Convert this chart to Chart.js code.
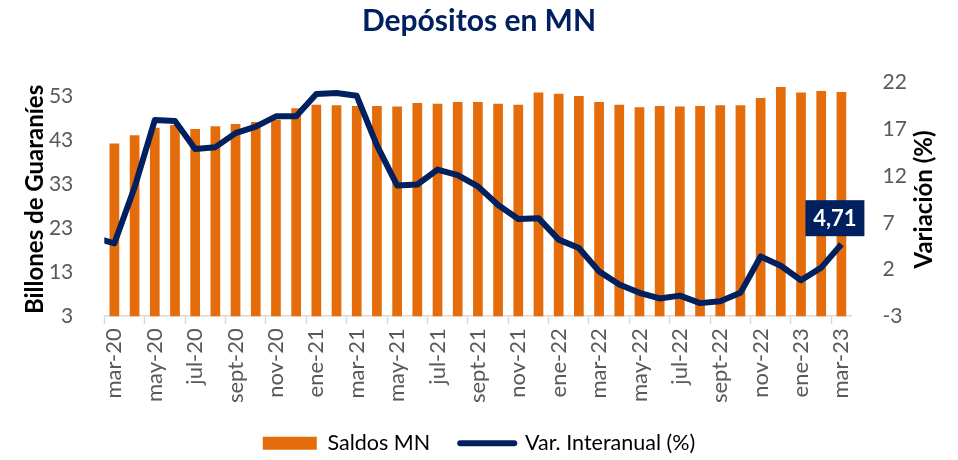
<!DOCTYPE html>
<html lang="es">
<head>
<meta charset="utf-8">
<title>Depósitos en MN</title>
<script src="https://cdn.jsdelivr.net/npm/chart.js@4.4.1/dist/chart.umd.min.js"></script>
<style>
  html, body { margin: 0; padding: 0; background: #fff; }
  #wrap { width: 958px; height: 460px; }
</style>
</head>
<body>
<div id="wrap"><canvas id="chart"></canvas></div>
<script>
// feb-20 only carries the line segment that enters from the left edge
const meses = [
  'feb-20', 'mar-20', 'abr-20', 'may-20', 'jun-20', 'jul-20', 'ago-20', 'sept-20', 'oct-20', 'nov-20', 'dic-20',
  'ene-21', 'feb-21', 'mar-21', 'abr-21', 'may-21', 'jun-21', 'jul-21', 'ago-21', 'sept-21', 'oct-21', 'nov-21', 'dic-21',
  'ene-22', 'feb-22', 'mar-22', 'abr-22', 'may-22', 'jun-22', 'jul-22', 'ago-22', 'sept-22', 'oct-22', 'nov-22', 'dic-22',
  'ene-23', 'feb-23', 'mar-23'
]

// Saldos MN (billones de guaraníes)
const saldosMN = [
  null,
  42.2, 44.1, 45.8, 46.4, 45.5, 46.1, 46.6, 47.1, 47.6, 50.2,
  51.0, 50.9, 50.7, 50.7, 50.6, 51.4, 51.2, 51.6, 51.6, 51.2, 51.0, 53.8,
  53.5, 53.0, 51.6, 51.0, 50.4, 50.7, 50.6, 50.7, 50.9, 50.9, 52.5, 55.0,
  53.8, 54.1, 53.9
]

// Var. interanual (%)
const varInteranual = [
  5.4,
  4.8, 10.8, 18.0, 17.9, 14.9, 15.1, 16.6, 17.3, 18.4, 18.4,
  20.8, 20.9, 20.6, 15.3, 11.0, 11.1, 12.7, 12.1, 10.9, 8.9, 7.4, 7.5,
  5.2, 4.3, 1.8, 0.4, -0.5, -1.1, -0.8, -1.6, -1.4, -0.5, 3.4, 2.4,
  0.85, 2.2, 4.71
]

const ticksIzq = [3, 13, 23, 33, 43, 53]
const ticksDer = [-3, 2, 7, 12, 17, 22]

const NARANJA = '#E46C0A'
const AZUL = '#002060'
const GRIS = '#595959'
const FONT = 'Lato, "Open Sans", sans-serif'

// box with the last value of the line + right axis title (reads bottom to top like the left one)
const extras = {
  id: 'extras',
  afterDatasetsDraw(chart) {
    const meta = chart.getDatasetMeta(1)
    const pt = meta.data[meta.data.length - 1]
    const valor = varInteranual[varInteranual.length - 1]
    const ctx = chart.ctx
    ctx.save()
    ctx.fillStyle = AZUL
    ctx.fillRect(pt.x - 36, pt.y - 44, 59, 36)
    ctx.fillStyle = '#fff'
    ctx.font = 'bold 22px ' + FONT
    ctx.textAlign = 'center'
    ctx.textBaseline = 'middle'
    ctx.fillText(valor.toFixed(2).replace('.', ','), pt.x - 6.5, pt.y - 25)
    ctx.restore()
  },
  afterDraw(chart) {
    const area = chart.chartArea
    const ctx = chart.ctx
    ctx.save()
    ctx.translate(924, (area.top + area.bottom) / 2)
    ctx.rotate(-Math.PI / 2)
    ctx.fillStyle = '#000'
    ctx.font = 'bold 24px ' + FONT
    ctx.textAlign = 'center'
    ctx.textBaseline = 'middle'
    ctx.fillText('Variación (%)', 0, 0)
    ctx.restore()
  }
}

new Chart(document.getElementById('chart'), {
  type: 'bar',
  data: {
    labels: meses,
    datasets: [
      {
        type: 'bar',
        label: 'Saldos MN',
        data: saldosMN,
        backgroundColor: NARANJA,
        borderWidth: 0,
        barPercentage: 0.48,
        categoryPercentage: 1,
        yAxisID: 'y',
        order: 1
      },
      {
        type: 'line',
        label: 'Var. Interanual (%)',
        data: varInteranual,
        borderColor: AZUL,
        backgroundColor: AZUL,
        borderWidth: 6,
        borderJoinStyle: 'round',
        tension: 0,
        pointRadius: 0,
        clip: 0,
        yAxisID: 'y1',
        order: 0
      }
    ]
  },
  options: {
    responsive: true,
    maintainAspectRatio: false,
    animation: false,
    layout: {
      padding: { left: 14, right: 14, top: 0, bottom: -4 }
    },
    plugins: {
      tooltip: { enabled: false },
      title: {
        display: true,
        text: 'Depósitos en MN',
        color: AZUL,
        font: { family: FONT, size: 30, weight: 'bold' },
        padding: { top: 3, bottom: 43.7 }
      },
      legend: {
        position: 'bottom',
        labels: {
          usePointStyle: true,
          pointStyleWidth: 54,
          boxHeight: 13,
          padding: 30,
          color: GRIS,
          font: { family: FONT, size: 21.5 },
          generateLabels: () => [
            { text: 'Saldos MN', fillStyle: NARANJA, strokeStyle: NARANJA, lineWidth: 0, pointStyle: 'rect', hidden: false, datasetIndex: 0 },
            { text: 'Var. Interanual (%)', fillStyle: AZUL, strokeStyle: AZUL, lineWidth: 6, lineCap: 'round', pointStyle: 'line', hidden: false, datasetIndex: 1 }
          ]
        }
      }
    },
    scales: {
      x: {
        min: 'mar-20',
        offset: true,
        afterFit: scale => { scale.height = 86.3 },
        grid: {
          offset: true,
          drawOnChartArea: false,
          tickLength: 8,
          tickColor: ctx => ctx.index % 2 === 0 ? '#D9D9D9' : 'rgba(0,0,0,0)',
          tickWidth: 1.5
        },
        border: { color: '#D9D9D9', width: 1.5 },
        ticks: {
          autoSkip: false,
          minRotation: 90,
          maxRotation: 90,
          padding: 4,
          color: GRIS,
          font: { family: FONT, size: 22 },
          callback(value, index) {
            return index % 2 === 0 ? this.getLabelForValue(value) : ''
          }
        }
      },
      y: {
        position: 'left',
        min: 3,
        max: 56,
        afterBuildTicks: scale => { scale.ticks = ticksIzq.map(v => ({ value: v })) },
        afterFit: scale => { scale.width = 90.3 },
        grid: { display: false },
        border: { display: false },
        ticks: { padding: 23, color: GRIS, font: { family: FONT, size: 21 } },
        title: {
          display: true,
          text: 'Billones de Guaraníes',
          color: '#000',
          font: { family: FONT, size: 24, weight: 'bold' },
          padding: { top: 7, bottom: 0 }
        }
      },
      y1: {
        position: 'right',
        min: -3,
        max: 22,
        afterBuildTicks: scale => { scale.ticks = ticksDer.map(v => ({ value: v })) },
        afterFit: scale => { scale.width = 92.5 },
        grid: { display: false },
        border: { display: false },
        ticks: { padding: 23, color: GRIS, font: { family: FONT, size: 21 } }
      }
    }
  },
  plugins: [extras]
})
</script>
</body>
</html>
